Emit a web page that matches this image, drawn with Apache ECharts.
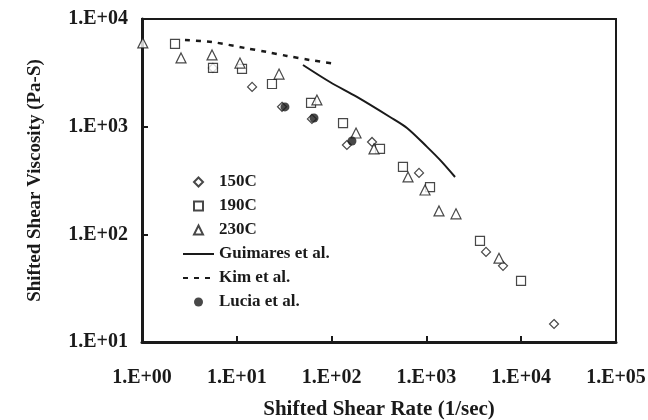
<!DOCTYPE html>
<html>
<head>
<meta charset="utf-8">
<script src="https://cdn.jsdelivr.net/npm/echarts@6/dist/echarts.min.js"></script>
<style>
  html, body { margin: 0; padding: 0; background: #fff; }
  #chart { width: 648px; height: 420px; }
</style>
</head>
<body>
<div id="chart"></div>
<script>
// shear rate (1/sec), viscosity (Pa-S)
const pts150C = [[5.6, 3510], [14.5, 2340], [30, 1530], [62, 1180], [145, 676], [267, 721], [836, 372], [4255, 68.7], [6430, 51], [22200, 14.7]];
const pts190C = [[2.23, 5870], [5.61, 3510], [11.35, 3435], [23.5, 2490], [60.7, 1660], [132, 1080], [324, 621], [566, 423], [1092, 275], [3675, 87], [9960, 36.9]];
const pts230C = [[1.02, 5990], [2.58, 4350], [5.48, 4640], [10.8, 3900], [27.9, 3080], [70, 1770], [181, 873], [280, 621], [640, 341], [967, 258], [1358, 165], [2052, 155], [5830, 60]];
const guimares = [[49.9, 3740], [96, 2600], [185, 1890], [413, 1230], [624, 972], [1015, 649], [1391, 491], [2005, 341]];
const kim = [[2.84, 6380], [5.48, 6110], [12.2, 5380], [20.8, 4940], [33.9, 4540], [59.2, 4160], [114, 3820]];
const lucia = [[32.2, 1525], [65.2, 1205], [164, 736]];

const ink = '#1a1a1a';
const font = 'Liberation Serif';

// legend icons as paths so they keep a square shape inside the wide icon box
const icons = {
	diamond: 'path://M5,0L10,5L5,10L0,5Z',
	rect: 'path://M0,0L10,0L10,10L0,10Z',
	triangle: 'path://M5,0L10,10L0,10Z',
	circle: 'path://M5,0A5,5,0,1,1,5,10A5,5,0,1,1,5,0Z'
};

// 1.E+03 style labels
function sci(v) {
	const p = Math.round(Math.log10(v));
	return '1.E+' + (p < 10 ? '0' + p : p);
}

function hollow(name, symbol, size, data) {
	return {
		name: name,
		type: 'scatter',
		symbol: symbol,
		symbolSize: size,
		data: data,
		itemStyle: { color: '#fff', borderColor: ink, borderWidth: 1.2 }
	};
}

let myChart = echarts.init(document.getElementById('chart'));
myChart.setOption({
	animation: false,
	backgroundColor: '#fff',
	grid: {
		left: 142, right: 32, top: 19, bottom: 78,
		outerBoundsMode: 'none', containLabel: false,
		show: true, borderColor: ink, borderWidth: 2
	},
	legend: {
		orient: 'vertical',
		left: 182, top: 170, padding: 0,
		itemWidth: 31, itemHeight: 9, itemGap: 0,
		symbolKeepAspect: true,
		textStyle: { fontFamily: font, fontWeight: 'bold', fontSize: 17, color: ink, lineHeight: 24 },
		data: [
			{ name: '150C', icon: icons.diamond },
			{ name: '190C', icon: icons.rect },
			{ name: '230C', icon: icons.triangle },
			{ name: 'Guimares et al.', itemStyle: { opacity: 0 } },
			{ name: 'Kim et al.', itemStyle: { opacity: 0 } },
			{ name: 'Lucia et al.', icon: icons.circle }
		]
	},
	xAxis: {
		type: 'log', logBase: 10, min: 1, max: 100000,
		name: 'Shifted Shear Rate (1/sec)',
		nameLocation: 'middle', nameGap: 57,
		nameTextStyle: { fontFamily: font, fontWeight: 'bold', fontSize: 21, color: ink },
		axisLine: { lineStyle: { color: ink, width: 3 } },
		axisTick: { inside: true, length: 6, lineStyle: { color: ink, width: 2 } },
		axisLabel: { formatter: sci, margin: 26, showMinLabel: true, showMaxLabel: true, fontFamily: font, fontWeight: 'bold', fontSize: 20, color: ink },
		splitLine: { show: false },
		minorTick: { show: false }
	},
	yAxis: {
		type: 'log', logBase: 10, min: 10, max: 10000,
		name: 'Shifted Shear Viscosity (Pa-S)',
		nameLocation: 'middle', nameGap: 97,
		nameTextStyle: { fontFamily: font, fontWeight: 'bold', fontSize: 19, color: ink },
		axisLine: { lineStyle: { color: ink, width: 3 } },
		axisTick: { inside: true, length: 6, lineStyle: { color: ink, width: 2 } },
		axisLabel: { formatter: sci, margin: 14, fontFamily: font, fontWeight: 'bold', fontSize: 20, color: ink },
		splitLine: { show: false }
	},
	series: [
		hollow('150C', 'diamond', 9, pts150C),
		hollow('190C', 'rect', 9, pts190C),
		hollow('230C', 'triangle', 10, pts230C),
		{
			name: 'Guimares et al.', type: 'line', data: guimares,
			symbol: 'none', smooth: 0.3,
			lineStyle: { color: ink, width: 2 }, itemStyle: { color: ink }
		},
		{
			name: 'Kim et al.', type: 'line', data: kim,
			symbol: 'none', smooth: 0.3,
			lineStyle: { color: ink, width: 2.5, type: [5, 6] }, itemStyle: { color: ink }
		},
		{
			name: 'Lucia et al.', type: 'scatter', data: lucia,
			symbol: 'circle', symbolSize: 9,
			itemStyle: { color: ink }
		}
	]
});
</script>
</body>
</html>
